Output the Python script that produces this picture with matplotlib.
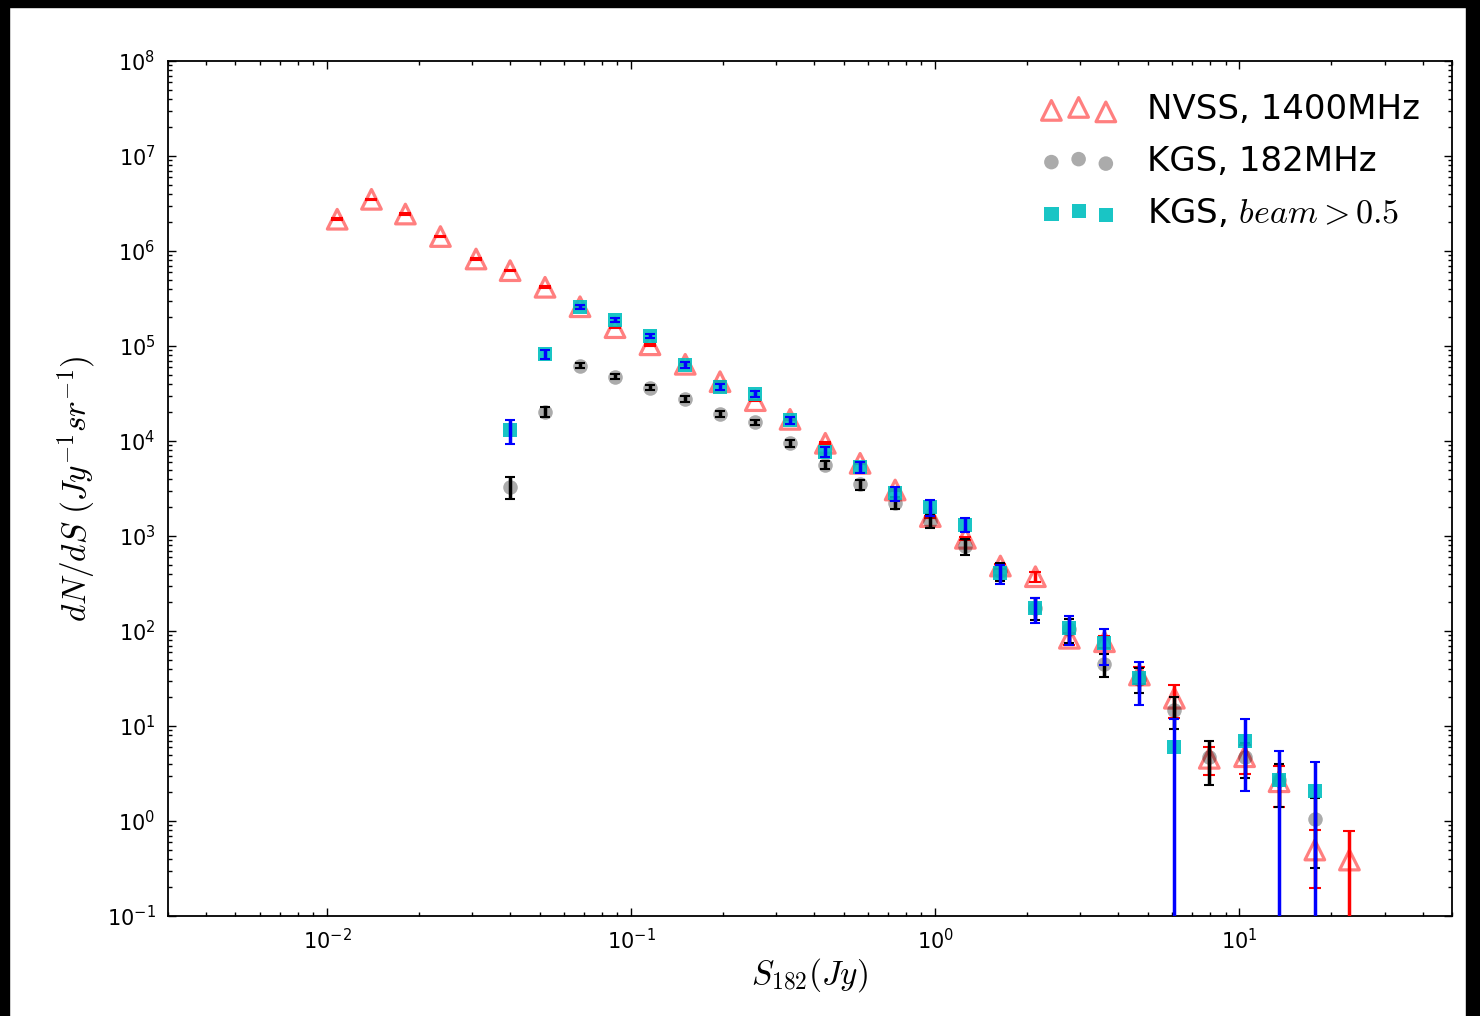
import numpy as np
import matplotlib
matplotlib.use('Agg')
import matplotlib.pyplot as plt
from matplotlib.patches import Rectangle

plt.rcParams['mathtext.fontset'] = 'cm'
plt.rcParams['font.family'] = 'DejaVu Sans'
plt.rcParams['axes.unicode_minus'] = False

# flux bins (Jy)
s_nvss = [0.0108, 0.0140, 0.0181, 0.0236, 0.0309, 0.0400, 0.0521, 0.0679, 0.0885, 0.1153,
          0.1506, 0.196, 0.256, 0.333, 0.435, 0.566, 0.738, 0.963, 1.256, 1.637,
          2.134, 2.76, 3.60, 4.69, 6.11, 7.96, 10.4, 13.5, 17.7, 23.0]
n_nvss = [2.16e6, 3.50e6, 2.45e6, 1.42e6, 8.24e5, 6.21e5, 4.15e5, 2.59e5, 1.56e5, 1.03e5,
          6.42e4, 4.21e4, 2.66e4, 1.69e4, 9.46e3, 5.82e3, 3.05e3, 1.60e3, 946, 483,
          373, 83.8, 77.1, 34.4, 19.6, 4.57, 4.75, 2.59, 0.495, 0.388]
e_nvss = [4e4, 6e4, 4e4, 2.5e4, 1.5e4, 1.1e4, 8e3, 5e3, 3e3, 2e3,
          1.2e3, 800, 500, 350, 200, 130, 70, 40, 30, 30,
          45, 12, 11, 7, 7.6, 1.5, 1.6, 1.2, 0.3, 0.388]

s_kgs = [0.0400, 0.0521, 0.0679, 0.0885, 0.1153, 0.1506, 0.196, 0.256, 0.333, 0.435,
         0.566, 0.738, 0.963, 1.256, 1.637, 2.134, 2.76, 3.60, 4.69, 6.11,
         7.96, 10.4, 13.5, 17.7]
n_kgs = [3.28e3, 2.03e4, 6.21e4, 4.75e4, 3.64e4, 2.77e4, 1.92e4, 1.57e4, 9.46e3, 5.59e3,
         3.50e3, 2.24e3, 1.45e3, 785, 428, 175, 105, 45.0, 31.3, 14.7,
         4.72, 4.72, 2.70, 1.04]
e_kgs = [850, 2.5e3, 4e3, 3e3, 2.2e3, 1.8e3, 1.3e3, 1.1e3, 800, 550,
         420, 320, 240, 150, 90, 45, 30, 12, 9, 5.5,
         2.3, 1.9, 1.3, 0.72]

s_beam = [0.0400, 0.0521, 0.0679, 0.0885, 0.1153, 0.1506, 0.196, 0.256, 0.333, 0.435,
          0.566, 0.738, 0.963, 1.256, 1.637, 2.134, 2.76, 3.60, 4.69, 6.11,
          10.4, 13.5, 17.7]
n_beam = [1.31e4, 8.18e4, 2.59e5, 1.88e5, 1.27e5, 6.31e4, 3.73e4, 3.13e4, 1.65e4, 7.71e3,
          5.28e3, 2.81e3, 2.00e3, 1.31e3, 405, 173, 107, 74.3, 31.8, 5.94,
          6.95, 2.70, 2.07]
e_beam = [3700, 8e3, 1.2e4, 9e3, 7e3, 4e3, 2.8e3, 2.4e3, 1.5e3, 900,
          700, 450, 380, 220, 95, 52, 36, 30, 15, 5.94,
          4.9, 2.70, 2.07]

fig = plt.figure(figsize=(14.8, 10.16), dpi=100)
ax = fig.add_axes([168/1480, 1-916/1016, (1452-168)/1480, (916-61)/1016])

ax.scatter(s_nvss, n_nvss, marker='^', s=200, facecolors='none', edgecolors='r',
           linewidths=2.3, alpha=0.5, label='NVSS, 1400MHz', zorder=2)
ax.errorbar(s_nvss, n_nvss, yerr=e_nvss, fmt='none', ecolor='r', elinewidth=2.5,
            capsize=4, capthick=1.5, zorder=3)

ax.scatter(s_kgs, n_kgs, marker='o', s=110, color='k', alpha=0.33, linewidths=0,
           label='KGS, 182MHz', zorder=4)
ax.errorbar(s_kgs, n_kgs, yerr=e_kgs, fmt='none', ecolor='k', elinewidth=2.5,
            capsize=3.5, capthick=1.5, zorder=5)

ax.scatter(s_beam, n_beam, marker='s', s=105, color='c', alpha=0.9, linewidths=0,
           label='KGS, $beam > 0.5$', zorder=6)
ax.errorbar(s_beam, n_beam, yerr=e_beam, fmt='none', ecolor='b', elinewidth=2.5,
            capsize=3.5, capthick=1.5, zorder=7)

ax.set_xscale('log', nonpositive='clip')
ax.set_yscale('log', nonpositive='clip')
ax.set_xlim(0.003, 50)
ax.set_ylim(0.1, 1e8)

ax.tick_params(which='both', direction='in', top=True, right=True, labelsize=15)
ax.tick_params(which='major', length=6, width=1, pad=9)
ax.tick_params(which='minor', length=3, width=1)
for sp in ax.spines.values():
    sp.set_linewidth(1.3)

ax.set_xlabel('$S_{182} (Jy)$', fontsize=24, labelpad=2)
ax.set_ylabel('$dN/dS\\ (Jy^{-1} sr^{-1})$', fontsize=24, labelpad=6)

ax.legend(loc='upper right', frameon=False, fontsize=24.5, scatterpoints=3,
          handlelength=2.2, handletextpad=0.9, labelspacing=0.55,
          borderaxespad=0.45, borderpad=0.5)

# black scan borders
for x0, y0, w, h in [(0, 1-7/1016, 1, 7/1016), (0, 0, 9/1480, 1), (1466/1480, 0, 14/1480, 1)]:
    fig.patches.append(Rectangle((x0, y0), w, h, transform=fig.transFigure,
                                 color='black', zorder=10))

fig.savefig('out.png', dpi=100)
